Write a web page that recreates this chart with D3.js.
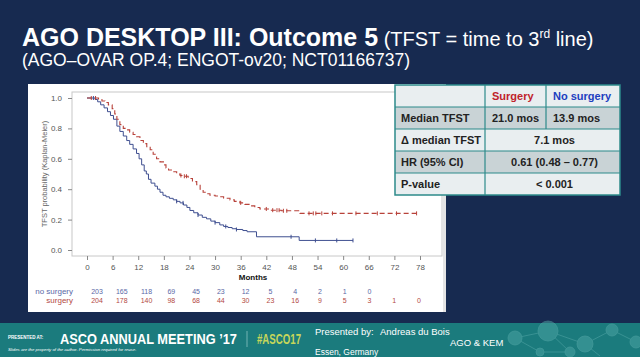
<!DOCTYPE html>
<html><head><meta charset="utf-8">
<script src="https://cdn.jsdelivr.net/npm/d3@7"></script>
<style>
html,body{margin:0;padding:0;background:#172a50;}
svg{display:block;font-family:"Liberation Sans",Arial,sans-serif;}
</style></head>
<body>
<svg id="c" width="640" height="357"></svg>
<script>
// ---------- data ----------
const monthTicks = [0,6,12,18,24,30,36,42,48,54,60,66,72,78];
const probTicks = [0,0.2,0.4,0.6,0.8,1.0];
const seriesNames = ["no surgery","surgery"];
// Kaplan-Meier steps [month, probability after step]
const noSurgeryKM = [[0,1],[1.9,0.99],[2.5,0.975],[3.2,0.955],[4.0,0.935],[4.8,0.91],[5.5,0.885],[6.2,0.86],[7.0,0.815],[7.7,0.78],[8.5,0.75],[9.3,0.72],[10.0,0.695],[10.8,0.665],[11.6,0.635],[12.2,0.6],[12.8,0.56],[13.4,0.52],[13.9,0.5],[14.4,0.465],[15.0,0.44],[15.9,0.42],[16.5,0.4],[17.1,0.38],[17.8,0.36],[18.5,0.35],[19.3,0.34],[20.2,0.33],[21.0,0.32],[21.8,0.31],[22.6,0.296],[23.4,0.28],[24.1,0.26],[25.0,0.245],[26.0,0.23],[27.0,0.215],[28.0,0.205],[29.0,0.19],[30.0,0.18],[31.1,0.165],[32.0,0.155],[33.0,0.148],[34.0,0.14],[35.0,0.135],[36.5,0.128],[37.5,0.12],[39.7,0.087],[49.7,0.063],[62.3,0.063]];
const surgeryKM = [[0,1],[2.7,0.99],[3.5,0.98],[4.2,0.97],[5.0,0.955],[5.9,0.93],[6.5,0.895],[7.0,0.86],[7.7,0.825],[8.5,0.8],[9.3,0.79],[10.0,0.775],[10.8,0.76],[11.6,0.745],[12.4,0.72],[13.2,0.7],[14.0,0.68],[14.8,0.66],[15.5,0.63],[16.3,0.6],[17.1,0.58],[17.9,0.56],[18.5,0.54],[19.1,0.526],[20.0,0.515],[21.0,0.5],[21.8,0.49],[22.6,0.485],[23.7,0.47],[24.7,0.45],[25.7,0.43],[26.5,0.4],[27.2,0.38],[28.0,0.37],[28.8,0.36],[30.0,0.355],[31.1,0.35],[32.0,0.34],[33.5,0.33],[34.5,0.32],[35.8,0.31],[37.0,0.3],[38.2,0.29],[39.3,0.28],[40.5,0.27],[42.5,0.262],[45.5,0.258],[49.9,0.241],[77.2,0.241]];
const noSurgeryCensor = [1.5,21,22.5,26,30,32.5,35,47.8,53.5,58.5,62.3];
const surgeryCensor = [1,2,22,22.8,23.3,36,42,43.5,44.5,45,46,46.8,52,53,53.6,55,57.5,63,68,72.5,77.2];
const atRiskNoSurgery = [203,165,118,69,45,23,12,5,4,2,1,0];
const atRiskSurgery = [204,178,140,98,68,44,30,23,16,9,5,3,1,0];
// summary table
const tableHeader = ["","Surgery","No surgery"];
const tableRowLabels = ["Median TFST","\u0394 median TFST","HR (95% CI)","P-value"];
const tableSurgery = ["21.0 mos",null,null,null];
const tableNoSurgery = ["13.9 mos",null,null,null];
const tableMerged = [null,"7.1 mos","0.61 (0.48 \u2013 0.77)","< 0.001"];

// ---------- drawing ----------
const svg = d3.select("#c");
const BG = "#172a50", BLUE = "#3f4f90", RED = "#b8423a";

// slide background + footer band
svg.append("rect").attr("width",640).attr("height",357).attr("fill",BG);
svg.append("rect").attr("x",0).attr("y",323).attr("width",640).attr("height",34).attr("fill","#1b7b7d");

// title
const t = svg.append("text").attr("x",22).attr("y",46).attr("fill","#fff");
t.append("tspan").attr("font-size",25).attr("font-weight","bold").text("AGO DESKTOP III: Outcome 5");
t.append("tspan").attr("font-size",20).text(" (TFST = time to 3");
t.append("tspan").attr("font-size",12).attr("dy",-8).text("rd");
t.append("tspan").attr("font-size",20).attr("dy",8).text(" line)");
svg.append("text").attr("x",22).attr("y",66).attr("fill","#fff").attr("font-size",17.5)
  .text("(AGO\u2013OVAR OP.4; ENGOT-ov20; NCT01166737)");

// white chart panel
svg.append("rect").attr("x",28).attr("y",84).attr("width",418).attr("height",228).attr("fill","#fff");
svg.append("rect").attr("x",443).attr("y",84).attr("width",3).attr("height",228).attr("fill","#e4e4e4");

const x = d3.scaleLinear().domain([0,78]).range([87,420]);
const y = d3.scaleLinear().domain([0,1]).range([250,98]);
const xRisk = d3.scaleLinear().domain([0,78]).range([97,419]);

// frame
svg.append("rect").attr("x",72).attr("y",92).attr("width",370).attr("height",164)
  .attr("fill","none").attr("stroke","#c8c8c8").attr("stroke-width",1);

const gx = svg.append("g").attr("transform","translate(0,256)")
  .call(d3.axisBottom(x).tickValues(monthTicks).tickSize(4).tickPadding(4).tickFormat(d3.format("d")));
const gy = svg.append("g").attr("transform","translate(72,0)")
  .call(d3.axisLeft(y).tickValues(probTicks).tickSize(4).tickPadding(6).tickFormat(d3.format(".1f")));
[gx,gy].forEach(g=>{
  g.select(".domain").remove();
  g.selectAll(".tick line").attr("stroke","#888");
  g.selectAll(".tick text").attr("fill","#555").attr("font-size",8).attr("font-family","Liberation Sans, Arial, sans-serif");
});

svg.append("text").attr("x",253).attr("y",280).attr("text-anchor","middle").attr("font-size",8)
  .attr("font-weight","bold").attr("fill","#111").text("Months");
svg.append("text").attr("transform","translate(47,174) rotate(-90)").attr("text-anchor","middle")
  .attr("font-size",7.5).attr("fill","#666").text("TFST probability (Kaplan-Meier)");

// curves
const line = d3.line().x(d=>x(d[0])).y(d=>y(d[1])).curve(d3.curveStepAfter);
svg.append("path").datum(noSurgeryKM).attr("d",line).attr("fill","none").attr("stroke",BLUE).attr("stroke-width",1);
svg.append("path").datum(surgeryKM).attr("d",line).attr("fill","none").attr("stroke",RED)
  .attr("stroke-width",1.1).attr("stroke-dasharray","5,3");

function levelAt(km,m){ let v=km[0][1]; for(const p of km){ if(p[0]<=m) v=p[1]; } return v; }
function censor(list,km,col){
  svg.append("g").selectAll("line").data(list).join("line")
    .attr("x1",d=>x(d)).attr("x2",d=>x(d))
    .attr("y1",d=>y(levelAt(km,d))-2).attr("y2",d=>y(levelAt(km,d))+2)
    .attr("stroke",col).attr("stroke-width",1);
}
censor(noSurgeryCensor,noSurgeryKM,BLUE);
censor(surgeryCensor,surgeryKM,RED);

// at-risk table
const riskCols = ["#5a68a6","#b3493f"];
[atRiskNoSurgery,atRiskSurgery].forEach((arr,i)=>{
  const yy = 294 + i*9;
  svg.append("text").attr("x",73).attr("y",yy).attr("text-anchor","end").attr("font-size",8)
    .attr("fill",riskCols[i]).text(seriesNames[i]);
  svg.append("g").selectAll("text").data(arr).join("text")
    .attr("x",(d,j)=>xRisk(monthTicks[j])).attr("y",yy).attr("text-anchor","middle")
    .attr("font-size",7).attr("fill",riskCols[i]).text(d=>d);
});

// summary table
const tx=[395,485,546,620], rowH=22, ty0=85;
const nRows = tableRowLabels.length+1;
for(let r=0;r<nRows;r++){
  svg.append("rect").attr("x",tx[0]).attr("y",ty0+r*rowH).attr("width",tx[3]-tx[0]).attr("height",rowH)
    .attr("fill", r%2===1 ? "#c9d3d6" : "#e9eef0");
}
const tcol="#2d8a8a";
svg.append("rect").attr("x",tx[0]).attr("y",ty0).attr("width",tx[3]-tx[0]).attr("height",rowH*nRows)
  .attr("fill","none").attr("stroke",tcol).attr("stroke-width",1.5);
for(let r=1;r<nRows;r++){
  svg.append("line").attr("x1",tx[0]).attr("x2",tx[3]).attr("y1",ty0+r*rowH).attr("y2",ty0+r*rowH)
    .attr("stroke",tcol).attr("stroke-width",1.2);
}
svg.append("line").attr("x1",tx[1]).attr("x2",tx[1]).attr("y1",ty0).attr("y2",ty0+rowH*nRows).attr("stroke",tcol).attr("stroke-width",1.2);
svg.append("line").attr("x1",tx[2]).attr("x2",tx[2]).attr("y1",ty0).attr("y2",ty0+rowH*2).attr("stroke",tcol).attr("stroke-width",1.2);
const hdrCols=[null,"#c0232b","#1c3fc0"];
[1,2].forEach(c=>{
  svg.append("text").attr("x",tx[c]+7).attr("y",ty0+15).attr("font-size",11).attr("font-weight","bold")
    .attr("fill",hdrCols[c]).text(tableHeader[c]);
});
tableRowLabels.forEach((lab,i)=>{
  const yy=ty0+(i+1)*rowH+15;
  svg.append("text").attr("x",tx[0]+6).attr("y",yy).attr("font-size",11).attr("font-weight","bold").attr("fill","#222").text(lab);
  if(tableSurgery[i]) svg.append("text").attr("x",tx[1]+7).attr("y",yy).attr("font-size",11).attr("font-weight","bold").attr("fill","#222").text(tableSurgery[i]);
  if(tableNoSurgery[i]) svg.append("text").attr("x",tx[2]+7).attr("y",yy).attr("font-size",11).attr("font-weight","bold").attr("fill","#222").text(tableNoSurgery[i]);
  if(tableMerged[i]) svg.append("text").attr("x",(tx[1]+tx[3])/2+2).attr("y",yy).attr("text-anchor","middle").attr("font-size",11).attr("font-weight","bold").attr("fill","#222").text(tableMerged[i]);
});

// footer decorative network
const deco = svg.append("g").attr("stroke","#5fb0b0").attr("stroke-width",0.8).attr("opacity",0.55);
deco.append("path").attr("fill","none").attr("d","M515,338L548,331L585,344L612,330L636,342M548,331L570,352L540,352L515,338M585,344L600,356");
[[515,338,7],[548,331,10],[585,344,8],[612,330,6],[570,352,5],[540,352,4],[636,342,6]].forEach(c=>{
  deco.append("circle").attr("cx",c[0]).attr("cy",c[1]).attr("r",c[2]).attr("fill","#4aa2a2");
});

// footer text
const f = svg.append("g").attr("fill","#fff");
f.append("text").attr("x",8).attr("y",339).attr("font-size",4.5).attr("font-weight","bold").text("PRESENTED AT:");
f.append("text").attr("x",60).attr("y",344).attr("font-size",14).attr("font-weight","bold")
  .attr("textLength",177).attr("lengthAdjust","spacingAndGlyphs").text("ASCO ANNUAL MEETING \u201917");
f.append("line").attr("x1",247).attr("x2",247).attr("y1",331).attr("y2",347).attr("stroke","#9cc").attr("stroke-width",0.7);
f.append("text").attr("x",257).attr("y",344).attr("font-size",14).attr("font-weight","bold").attr("fill","#c6d65a")
  .attr("textLength",44).attr("lengthAdjust","spacingAndGlyphs").text("#ASCO17");
f.append("text").attr("x",8).attr("y",351).attr("font-size",4.3).attr("font-style","italic").text("Slides are the property of the author. Permission required for reuse.");
f.append("text").attr("x",315).attr("y",335).attr("font-size",9.5).text("Presented by:");
f.append("text").attr("x",380).attr("y",335).attr("font-size",9.5).text("Andreas du Bois");
f.append("text").attr("x",450).attr("y",346).attr("font-size",9.5).text("AGO & KEM");
f.append("text").attr("x",315).attr("y",355).attr("font-size",8.5).text("Essen, Germany");
</script>
</body></html>
